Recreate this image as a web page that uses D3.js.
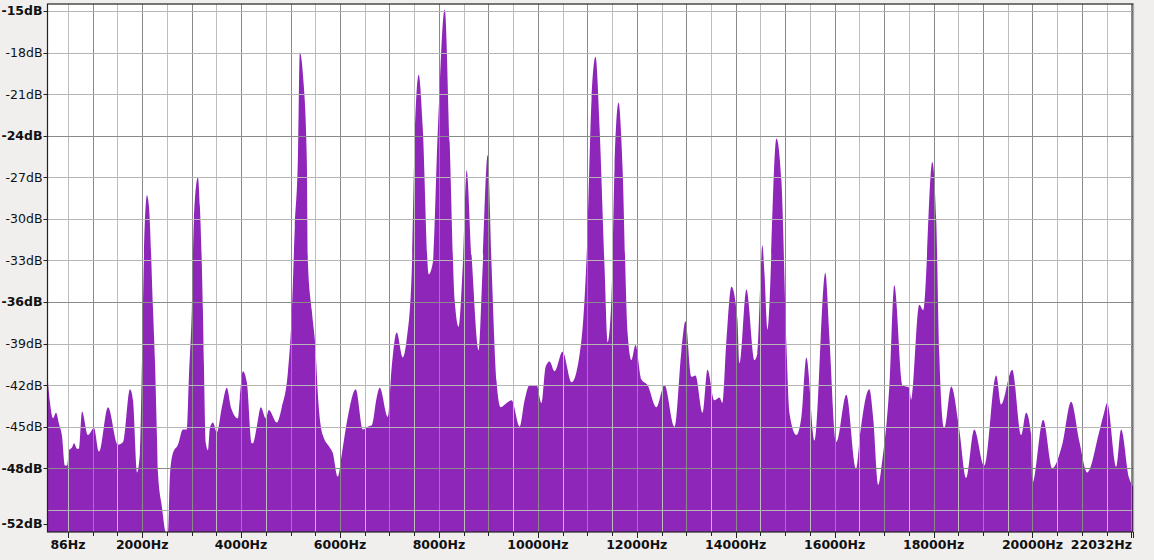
<!DOCTYPE html>
<html><head><meta charset="utf-8">
<script src="https://cdn.jsdelivr.net/npm/d3@7"></script>
<style>body{margin:0;background:#f0efee;}svg{display:block;font-family:"DejaVu Sans",sans-serif;}</style>
</head><body><svg id="c" width="1154" height="560"></svg>
<script>
const freqHz = [86,137,198,259,319,380,440,481,521,582,622,683,723,784,905,1026,1127,1309,1511,1612,1753,1814,1895,1955,1996,2036,2097,2137,2218,2258,2299,2319,2400,2481,2521,2561,2622,2723,2824,2904,2945,3005,3046,3127,3167,3228,3248,3288,3329,3369,3430,3510,3611,3712,3793,3935,3975,4036,4116,4217,4238,4318,4399,4500,4561,4722,4823,4945,5025,5086,5147,5187,5248,5329,5349,5429,5510,5551,5652,5793,5854,5955,6035,6157,6318,6460,6561,6641,6742,6803,6965,7045,7146,7268,7348,7449,7510,7591,7672,7793,7874,7975,8116,8217,8318,8399,8480,8560,8661,8803,8884,8985,9065,9166,9247,9368,9469,9631,9732,9833,9974,10075,10156,10237,10338,10499,10681,10883,11004,11085,11166,11247,11348,11409,11489,11550,11631,11712,11813,11893,11974,12095,12217,12398,12560,12762,12903,12984,13105,13186,13328,13429,13570,13671,13732,13813,13914,14035,14075,14216,14378,14439,14540,14580,14641,14823,14923,15024,15085,15226,15327,15428,15590,15812,15893,16034,16236,16438,16519,16701,16782,16883,16964,17105,17206,17368,17509,17549,17711,17792,17974,18054,18115,18216,18357,18519,18660,18822,19024,19266,19367,19590,19771,19872,19973,19994,20216,20398,20600,20781,20943,21105,21347,21448,21509,21691,21792,21953,22032];
const levelDb = [-41.3,-43.3,-44.4,-44.0,-44.8,-45.7,-47.8,-47.8,-46.7,-46.5,-46.2,-46.6,-46.6,-43.9,-45.6,-45.1,-46.8,-43.6,-46.3,-46.1,-42.3,-43.1,-48.3,-46.9,-40.2,-32.7,-28.3,-29.1,-36.4,-40.2,-45.7,-48.3,-50.8,-52.6,-52.6,-48.6,-46.9,-46.3,-45.2,-45.2,-41.4,-36.4,-30.1,-27.0,-29.1,-36.6,-40.4,-46.2,-46.7,-45.1,-44.7,-45.4,-43.6,-42.2,-43.6,-44.4,-42.9,-41.0,-41.8,-46.2,-46.2,-45.0,-43.6,-44.4,-43.8,-44.7,-43.6,-41.1,-36.8,-30.6,-25.8,-18.0,-19.5,-25.8,-33.0,-36.6,-39.7,-42.6,-45.6,-46.5,-46.9,-48.6,-47.0,-44.3,-42.3,-45.2,-45.0,-44.9,-42.9,-42.2,-44.3,-40.7,-38.2,-40.0,-38.7,-33.9,-24.3,-19.6,-23.4,-34.0,-33.2,-23.8,-14.9,-24.5,-35.9,-37.8,-33.5,-26.5,-32.7,-39.5,-33.5,-25.4,-33.5,-41.8,-43.6,-43.3,-43.1,-45.0,-43.1,-42.0,-42.0,-43.3,-40.7,-40.3,-41.0,-39.6,-41.8,-38.7,-31.0,-21.4,-18.3,-23.4,-33.5,-38.9,-35.6,-26.3,-21.6,-26.3,-38.2,-40.2,-39.1,-41.6,-42.0,-43.6,-42.0,-45.0,-39.5,-37.4,-41.4,-41.3,-44.0,-40.9,-43.1,-42.9,-43.3,-38.7,-34.9,-37.3,-40.4,-35.1,-40.2,-39.7,-31.9,-33.9,-38.0,-24.2,-27.2,-39.0,-44.0,-45.6,-44.3,-40.0,-46.0,-33.9,-38.5,-46.1,-42.7,-48.0,-45.4,-42.3,-44.5,-49.2,-47.4,-42.1,-34.8,-42.0,-42.2,-43.1,-36.2,-36.6,-25.9,-30.1,-39.7,-45.1,-42.1,-45.2,-48.7,-45.2,-47.8,-41.3,-43.4,-40.9,-45.6,-44.0,-45.6,-49.1,-44.5,-48.0,-46.3,-43.2,-46.0,-48.3,-45.4,-44.0,-43.3,-47.9,-45.2,-48.7,-49.3];
const dbTicks = [-15,-18,-21,-24,-27,-30,-33,-36,-39,-42,-45,-48,-52];
const dbGrid = [-15,-18,-21,-24,-27,-30,-33,-36,-39,-42,-45,-48,-51];
const hzTicks = [500,2000,4000,6000,8000,10000,12000,14000,16000,18000,20000,22032];
const hzLabels = ["86Hz","2000Hz","4000Hz","6000Hz","8000Hz","10000Hz","12000Hz","14000Hz","16000Hz","18000Hz","20000Hz","22032Hz"];

const svg = d3.select("#c");
const L=47.5, R=1133, T=4, B=532;
const x = d3.scaleLinear().domain([86,22032]).range([L,R]);
const y = d3.scaleLinear().domain([-52.6,-14.5]).range([B,T]);
svg.append("rect").attr("x",L).attr("y",T).attr("width",R-L).attr("height",B-T).attr("fill","#fff");
const minorHz = d3.range(500,22001,500);
const data = freqHz.map((f,i)=>({f,v:levelDb[i]}));
svg.append("defs").append("clipPath").attr("id","cp").append("rect").attr("x",L).attr("y",T).attr("width",R-L).attr("height",B-T);
svg.append("path").datum(data).attr("fill","#8e27b9").attr("clip-path","url(#cp)")
  .attr("d",d3.area().curve(d3.curveMonotoneX).x(d=>x(d.f)).y0(B).y1(d=>y(d.v)));
const g = svg.append("g");
g.selectAll(".vg").data(minorHz).join("line")
  .attr("x1",d=>Math.round(x(d))+0.5).attr("x2",d=>Math.round(x(d))+0.5).attr("y1",T).attr("y2",B)
  .attr("stroke",d=>d%1000===0?"#8a8a8a":"#bdbdbd").attr("stroke-width",1);
g.selectAll(".hg").data(dbGrid).join("line")
  .attr("x1",L).attr("x2",R).attr("y1",d=>Math.round(y(d))+0.5).attr("y2",d=>Math.round(y(d))+0.5)
  .attr("stroke",d=>d%12===0?"#8a8a8a":"#b5b5b5");
svg.append("rect").attr("x",L).attr("y",T).attr("width",R-L).attr("height",B-T).attr("fill","none").attr("stroke","#222").attr("stroke-width",1.2);
svg.append("line").attr("x1",R+1).attr("x2",R+1).attr("y1",T).attr("y2",B).attr("stroke","#ddd");
const ya = svg.append("g");
ya.selectAll("line").data(dbTicks).join("line")
  .attr("x1",L-4).attr("x2",L).attr("y1",d=>Math.round(y(d))+0.5).attr("y2",d=>Math.round(y(d))+0.5).attr("stroke","#222");
ya.selectAll("text").data(dbTicks).join("text")
  .attr("x",L-5).attr("y",d=>y(d)+4.5).attr("text-anchor","end").attr("font-size",12.5)
  .attr("font-weight",d=>(d%12===0||d===-15||d===-52)?"bold":"normal").attr("fill","#111")
  .text(d=>d+"dB");
const xa = svg.append("g");
xa.selectAll("line").data(minorHz.concat([22032])).join("line")
  .attr("x1",d=>Math.round(x(d))+0.5).attr("x2",d=>Math.round(x(d))+0.5).attr("y1",B).attr("y2",d=>d%2000===0||d===500||d===22032?B+6:B+4).attr("stroke","#222");
xa.selectAll("text").data(hzTicks).join("text")
  .attr("x",(d,i)=>i===hzTicks.length-1?R-1:x(d)).attr("y",549)
  .attr("text-anchor",(d,i)=>i===hzTicks.length-1?"end":"middle")
  .attr("font-size",12.5).attr("font-weight","bold").attr("fill","#111")
  .text((d,i)=>hzLabels[i]);
</script></body></html>
